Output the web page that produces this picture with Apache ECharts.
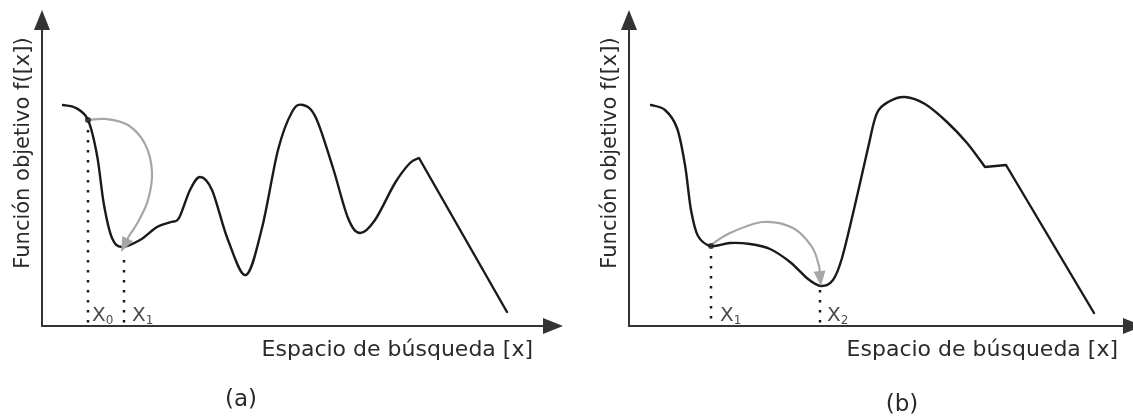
<!DOCTYPE html>
<html><head><meta charset="utf-8">
<script src="https://cdn.jsdelivr.net/npm/echarts@6/dist/echarts.min.js"></script>
<style>html,body{margin:0;padding:0;background:#fff}#c{width:1133px;height:418px}</style>
</head><body><div id="c"></div>
<script>
// ---- text ----
const xAxisName = 'Espacio de búsqueda [x]';
const yAxisName = 'Función objetivo f([x])';
const panelNames = ['(a)', '(b)'];

// ---- axis extents (abstract units) ----
const axisMaxA = [511, 306];
const axisMaxB = [504, 306];

// ---- panel (a) ----
const curveA = [[21,221],[34,218],[46,206],[55,171],[62,121],[70,88],[80,79],[98,86],[115,99],[129,104],[137,108],[148,136],[158,149],[170,136],[186,86],[204,51],[220,98],[236,176],[250,214],[261,221],[274,208],[291,158],[306,108],[318,93],[333,106],[353,143],[368,163],[377,168]];
const tailA = [[465,14]];
const arcA = [[46,206],[64,207],[86,201],[103,182],[110,154],[106,126],[96,104],[87,90],[79,74]];
const startA = [[46,206]];
const guidesA = [[[46,196],[46,0]], [[82,66],[82,0]]];
const marksA = [[50,10,'0'],[90,10,'1']];

// ---- panel (b) ----
const curveB = [[22,221],[36,216],[48,198],[56,161],[62,116],[69,90],[82,80],[101,83],[121,82],[141,77],[161,64],[179,47],[192,40],[204,46],[213,68],[226,121],[239,178],[248,213],[261,225],[276,229],[296,222],[318,204],[338,183],[356,159]];
const tailB = [[377,161],[465,13]];
const arcB = [[82,81],[101,93],[134,104],[164,98],[183,79],[190,60],[192,40]];
const startB = [[82,80]];
const guidesB = [[[82,70],[82,0]], [[191,36],[191,0]]];
const marksB = [[91,10,'1'],[198,10,'2']];

const FONT = 'DejaVu Sans';
const TXT = '#2a2a2a';
const INK = '#1a1a1a';
const GRAY = '#a6a6a6';

// Catmull-Rom spline through pixel points, then straight segments
function splinePath(pts, straight) {
  let d = 'M' + pts[0][0] + ',' + pts[0][1];
  for (let i = 0; i < pts.length - 1; i++) {
    const p0 = pts[i - 1] || pts[i], p1 = pts[i], p2 = pts[i + 1], p3 = pts[i + 2] || pts[i + 1];
    const c1 = [p1[0] + (p2[0] - p0[0]) / 6, p1[1] + (p2[1] - p0[1]) / 6];
    const c2 = [p2[0] - (p3[0] - p1[0]) / 6, p2[1] - (p3[1] - p1[1]) / 6];
    d += ' C' + c1[0] + ',' + c1[1] + ' ' + c2[0] + ',' + c2[1] + ' ' + p2[0] + ',' + p2[1];
  }
  (straight || []).forEach(p => { d += ' L' + p[0] + ',' + p[1]; });
  return d;
}

function curveSeries(i, pts, tail, color, width) {
  return {type:'custom', xAxisIndex:i, yAxisIndex:i, data:pts, silent:true,
    renderItem:(params, api) => {
      if (params.dataIndex !== 0) return null;
      const px = pts.map(p => api.coord(p));
      const tp = (tail || []).map(p => api.coord(p));
      return {type:'path', shape:{pathData:splinePath(px, tp)},
        style:{fill:'none', stroke:color, lineWidth:width, lineJoin:'round', lineCap:'round'}};
    }};
}

function arrowSeries(i, pts) {
  return {type:'custom', xAxisIndex:i, yAxisIndex:i, data:pts, silent:true, z:3,
    renderItem:(params, api) => {
      if (params.dataIndex !== 0) return null;
      const px = pts.map(p => api.coord(p));
      const tip = px[px.length - 1], prev = px[px.length - 2];
      let dx = tip[0] - prev[0], dy = tip[1] - prev[1];
      const len = Math.hypot(dx, dy); dx /= len; dy /= len;
      const L = 15, W = 12;
      const base = [tip[0] - dx * L, tip[1] - dy * L];
      const body = px.slice(0, -1).concat([base]);
      return {type:'group', children:[
        {type:'path', shape:{pathData:splinePath(body)}, style:{fill:'none', stroke:GRAY, lineWidth:2.2, lineCap:'round'}},
        {type:'polygon', shape:{points:[tip, [base[0] - dy * W / 2, base[1] + dx * W / 2], [base[0] + dy * W / 2, base[1] - dx * W / 2]]},
          style:{fill:GRAY, stroke:'none'}}
      ]};
    }};
}

function axisPair(i, max) {
  const line = {show:true, lineStyle:{color:'#333333', width:2}, symbol:['none','triangle'], symbolSize:[16,20]};
  return {
    x: {type:'value', gridIndex:i, min:0, max:max[0], axisLine:line, axisTick:{show:false}, axisLabel:{show:false}, splitLine:{show:false},
        name:xAxisName, nameLocation:'end', nameGap: i===0 ? -20 : -15,
        nameTextStyle:{fontFamily:FONT, fontSize:22, color:TXT, align:'right', verticalAlign:'top', padding:[13,0,0,0]}},
    y: {type:'value', gridIndex:i, min:0, max:max[1], axisLine:line, axisTick:{show:false}, axisLabel:{show:false}, splitLine:{show:false},
        name:yAxisName, nameLocation:'middle', nameGap:8,
        nameTextStyle:{fontFamily:FONT, fontSize:21, color:TXT, padding:[0,0,0,40]}}
  };
}

function panelSeries(i, curve, tail, arc, start, guides, marks) {
  const s = [];
  guides.forEach(g => s.push({type:'line', xAxisIndex:i, yAxisIndex:i, data:g, symbol:'none', silent:true,
    lineStyle:{color:INK, width:2.5, type:[2.5,7.5]}}));
  s.push(curveSeries(i, curve, tail, INK, 2.4));
  s.push(arrowSeries(i, arc));
  s.push({type:'scatter', xAxisIndex:i, yAxisIndex:i, data:start, symbol:'circle', symbolSize:6, itemStyle:{color:INK}, z:4});
  s.push({type:'scatter', xAxisIndex:i, yAxisIndex:i, symbolSize:0,
    data:marks.map(m => ({value:[m[0], m[1]], sub:m[2]})),
    label:{show:true, position:'right', distance:0, fontFamily:FONT, fontSize:20, color:INK,
      formatter: p => '{big|X}{sub|' + p.data.sub + '}',
      rich:{big:{fontFamily:FONT, fontSize:20, color:INK, lineHeight:22},
            sub:{fontFamily:FONT, fontSize:12, color:INK, lineHeight:12, verticalAlign:'bottom'}}}});
  return s;
}

const A = axisPair(0, axisMaxA), B = axisPair(1, axisMaxB);
const chart = echarts.init(document.getElementById('c'), null, {renderer:'canvas'});
chart.setOption({
  animation:false,
  backgroundColor:'#fff',
  grid:[{left:42, top:20, width:511, height:306}, {left:629, top:20, width:504, height:306}],
  xAxis:[A.x, B.x],
  yAxis:[A.y, B.y],
  series:[].concat(
    panelSeries(0, curveA, tailA, arcA, startA, guidesA, marksA),
    panelSeries(1, curveB, tailB, arcB, startB, guidesB, marksB)),
  graphic:[
    {type:'text', x:241, y:400, style:{text:panelNames[0], font:'23px "DejaVu Sans"', fill:TXT, align:'center', verticalAlign:'middle', textAlign:'center', textVerticalAlign:'middle'}},
    {type:'text', x:902, y:405, style:{text:panelNames[1], font:'23px "DejaVu Sans"', fill:TXT, align:'center', verticalAlign:'middle', textAlign:'center', textVerticalAlign:'middle'}}
  ]
});
</script></body></html>
